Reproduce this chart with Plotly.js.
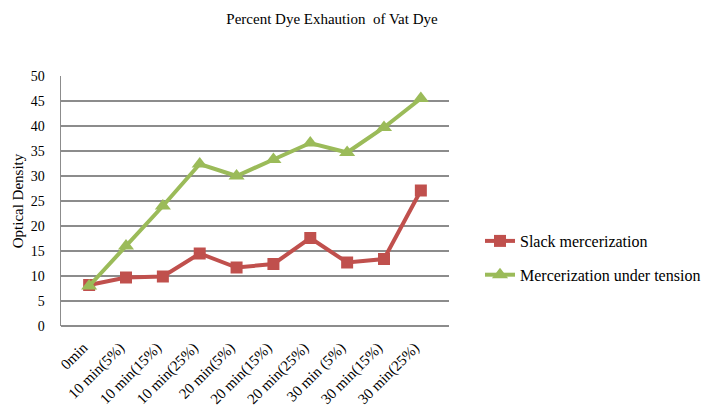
<!DOCTYPE html>
<html><head><meta charset="utf-8">
<script src="https://cdn.plot.ly/plotly-3.0.1.min.js"></script>
<style>html,body{margin:0;padding:0;background:#fff}#chart{width:710px;height:416px}</style>
</head><body><div id="chart"></div>
<script>
var categories = ["0min","10 min(5%)","10 min(15%)","10 min(25%)","20 min(5%)","20 min(15%)","20 min(25%)","30 min (5%)","30 min(15%)","30 min(25%)"];
var slack = [8.2, 9.7, 9.9, 14.5, 11.7, 12.4, 17.6, 12.7, 13.4, 27.1];
var tension = [8.0, 16.0, 24.0, 32.4, 30.0, 33.3, 36.6, 34.7, 39.7, 45.5];
var yTicks = [0,5,10,15,20,25,30,35,40,45,50];

var font = "Liberation Serif, Times New Roman, serif";
var traces = [
  {x: categories, y: slack, name: "Slack mercerization", type: "scatter", mode: "lines+markers",
   legendgroup: "a",
   line: {color: "#C0504D", width: 4}, marker: {symbol: "square", size: 12, color: "#C0504D"}},
  {x: categories, y: tension, name: "Mercerization under tension", type: "scatter", mode: "lines+markers",
   legendgroup: "b",
   line: {color: "#9BBB59", width: 4}, marker: {symbol: "triangle-up", size: 14, color: "#9BBB59"}}
];
var layout = {
  width: 710, height: 416,
  margin: {l: 61, r: 261, t: 76, b: 90},
  paper_bgcolor: "#fff", plot_bgcolor: "#fff",
  font: {family: font, size: 14, color: "#000"},
  title: {text: "Percent Dye Exhaution  of Vat Dye", font: {family: font, size: 15, color: "#000"},
          x: 332/710, xref: "container", xanchor: "center", y: 0.955, yanchor: "middle"},
  xaxis: {type: "category", tickangle: -45, showgrid: false, showline: false, zeroline: false,
          ticks: "", ticklabelstandoff: 9, ticklabelshift: -6, tickfont: {family: font, size: 15}, automargin: false},
  yaxis: {range: [0, 50], tickvals: yTicks, showgrid: true, gridcolor: "#8c8c8c", gridwidth: 1.5,
          showline: true, linecolor: "#8c8c8c", linewidth: 1.5, zeroline: true, zerolinecolor: "#8c8c8c", zerolinewidth: 1.5,
          ticks: "", ticklen: 0, ticklabelstandoff: 12, tickfont: {family: font, size: 14}, automargin: false,
          title: {text: "Optical Density", font: {family: font, size: 15}, standoff: 3}},
  legend: {xref: "container", yref: "container", x: 480/710, y: 1 - 258/416, xanchor: "left", yanchor: "middle",
           traceorder: "grouped", tracegroupgap: 10,
           font: {family: font, size: 16}, bgcolor: "rgba(0,0,0,0)"},
  showlegend: true
};
Plotly.newPlot("chart", traces, layout, {displayModeBar: false, staticPlot: true});
</script></body></html>
